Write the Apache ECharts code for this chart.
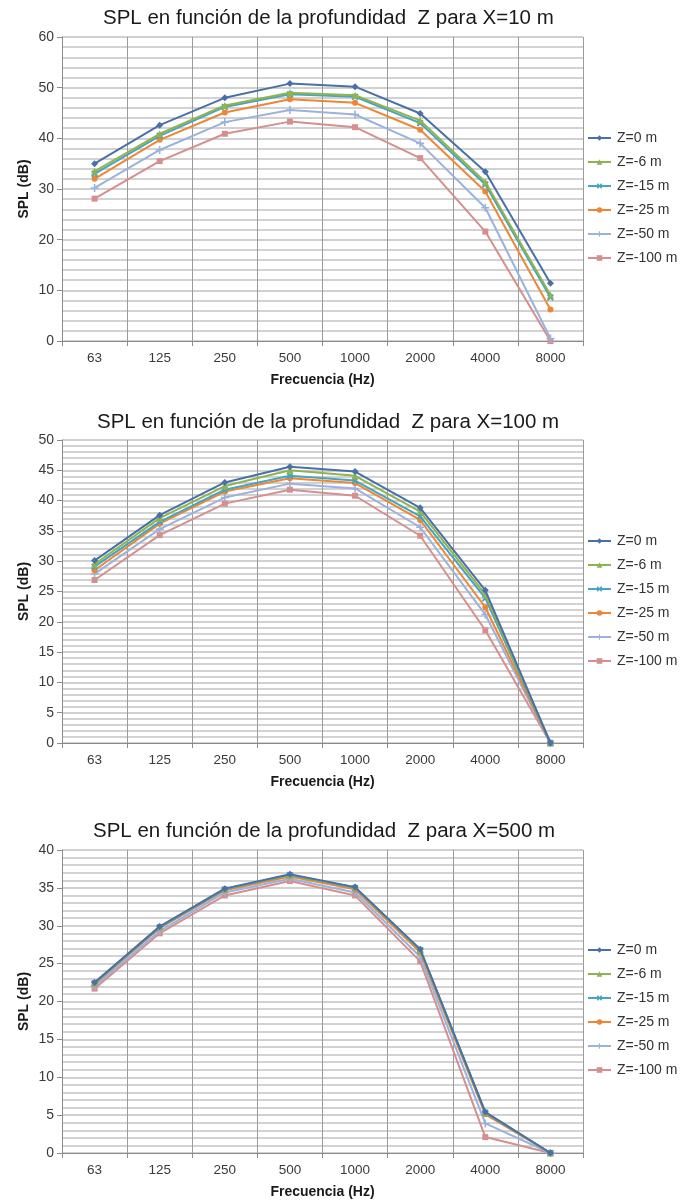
<!DOCTYPE html>
<html>
  <head>
    <meta charset="utf-8" />
    <title>SPL en función de la profundidad</title>
    <script src="https://cdn.jsdelivr.net/npm/echarts@6/dist/echarts.min.js"></script>
    <style>
      body { margin: 0; background: #fff; }
    </style>
  </head>
  <body>
    <div id="main" style="width: 696px; height: 1200px"></div>
  </body>

  <script>
    // datos
    var frecuencias = ["63", "125", "250", "500", "1000", "2000", "4000", "8000"];
    var profundidades = ["Z=0 m", "Z=-6 m", "Z=-15 m", "Z=-25 m", "Z=-50 m", "Z=-100 m"];
    var distancias = ["10", "100", "500"];

    // X=10 m
    var spl10 = [
      [35.0, 42.6, 48.0, 50.8, 50.2, 44.9, 33.4, 11.4],
      [33.5, 40.9, 46.5, 49.0, 48.5, 43.5, 31.4, 9.1],
      [33.0, 40.5, 46.2, 48.7, 48.2, 43.0, 30.9, 8.6],
      [32.0, 39.7, 45.1, 47.7, 47.0, 41.7, 29.5, 6.2],
      [30.2, 37.7, 43.2, 45.6, 44.7, 39.0, 26.3, 0.5],
      [28.1, 35.5, 40.9, 43.3, 42.2, 36.1, 21.6, 0.0],
    ];
    // X=100 m
    var spl100 = [
      [30.1, 37.6, 43.0, 45.6, 44.8, 38.8, 25.2, 0],
      [29.5, 37.1, 42.4, 45.0, 44.1, 38.2, 24.5, 0],
      [29.1, 36.5, 41.8, 44.1, 43.3, 37.4, 23.9, 0],
      [28.5, 36.2, 41.5, 43.7, 42.9, 36.8, 22.4, 0],
      [27.9, 35.3, 40.5, 42.8, 42.0, 35.6, 21.2, 0],
      [26.9, 34.3, 39.5, 41.8, 40.8, 34.2, 18.6, 0],
    ];
    // X=500 m
    var spl500 = [
      [22.5, 29.9, 34.9, 36.8, 35.1, 26.9, 5.4, 0],
      [22.5, 29.9, 34.9, 36.7, 35.1, 26.8, 5.4, 0],
      [22.4, 29.8, 34.8, 36.7, 35.0, 26.8, 5.3, 0],
      [22.3, 29.7, 34.7, 36.5, 34.8, 26.5, 5.1, 0],
      [22.0, 29.3, 34.4, 36.2, 34.4, 25.9, 3.9, 0],
      [21.7, 29.0, 34.0, 35.9, 34.0, 25.3, 2.1, 0],
    ];
    var ejesMax = [60, 50, 40];
    var ejesIntervalo = [10, 5, 5];

    var colores = ["#4a70a8", "#8db451", "#48a4bf", "#ef8636", "#9bb2dc", "#d68f8f"];
    var simbolos = [
      "diamond",
      "triangle",
      "path://M2,0 L5,3 L8,0 L10,2 L7,5 L10,8 L8,10 L5,7 L2,10 L0,8 L3,5 L0,2 Z",
      "circle",
      "path://M4,0 H6 V4 H10 V6 H6 V10 H4 V6 H0 V4 H4 Z",
      "rect",
    ];
    var tamanos = [7, 7, 7, 6, 8, 6];

    var fuente = "'Liberation Sans', Arial, sans-serif";
    var tops = [37, 440, 850];
    var altos = [304, 303, 304];
    var tituloTop = [8, 412, 821];
    var tituloLeft = [103, 97, 93];
    var leyendaTop = [130, 533, 942];
    var datos = [spl10, spl100, spl500];

    var myChart = echarts.init(document.getElementById("main"));

    var option = {
      backgroundColor: "#fff",
      title: [],
      legend: [],
      grid: [],
      xAxis: [],
      yAxis: [],
      series: [],
    };

    for (var g = 0; g < 3; g++) {
      option.title.push({
        text: "SPL en función de la profundidad  Z para X=" + distancias[g] + " m",
        left: tituloLeft[g],
        top: tituloTop[g],
        padding: 0,
        textStyle: { fontFamily: fuente, fontSize: 20.5, fontWeight: "normal", color: "#1a1a1a" },
      });
      option.legend.push({
        orient: "vertical",
        left: 587,
        top: leyendaTop[g],
        padding: 0,
        itemWidth: 23,
        itemHeight: 7,
        itemGap: 8,
        data: profundidades,
        textStyle: { fontFamily: fuente, fontSize: 14, color: "#333", lineHeight: 16, padding: [0, 0, 0, 1] },
      });
      option.grid.push({ left: 62, top: tops[g], width: 521, height: altos[g] });
      option.xAxis.push({
        type: "category",
        gridIndex: g,
        data: frecuencias,
        boundaryGap: true,
        name: "Frecuencia (Hz)",
        nameLocation: "middle",
        nameGap: 32,
        nameTextStyle: { fontFamily: fuente, fontSize: 14, fontWeight: "bold", color: "#1a1a1a" },
        axisLine: { lineStyle: { color: "#8c8c8c", width: 1 } },
        axisTick: { show: true, length: 5, lineStyle: { color: "#8c8c8c" } },
        axisLabel: { fontFamily: fuente, fontSize: 13.5, color: "#3a3a3a", margin: 10 },
        splitLine: { show: true, lineStyle: { color: "#9a9a9a", width: 1 } },
      });
      option.yAxis.push({
        type: "value",
        gridIndex: g,
        min: 0,
        max: ejesMax[g],
        interval: ejesIntervalo[g],
        name: "SPL (dB)",
        nameLocation: "middle",
        nameRotate: 90,
        nameGap: 31,
        nameMoveOverlap: false,
        nameTextStyle: { fontFamily: fuente, fontSize: 14, fontWeight: "bold", color: "#1a1a1a" },
        axisLine: { show: true, lineStyle: { color: "#8c8c8c", width: 1 } },
        axisTick: { show: true, length: 5, lineStyle: { color: "#8c8c8c" } },
        axisLabel: { fontFamily: fuente, fontSize: 14, color: "#3a3a3a", margin: 8 },
        splitLine: { show: true, lineStyle: { color: "#c0c0c0", width: 1.5 } },
        minorTick: { show: false, splitNumber: 5 },
        minorSplitLine: { show: true, lineStyle: { color: "#c4c4c4", width: 1.5 } },
      });
      for (var s = 0; s < profundidades.length; s++) {
        option.series.push({
          name: profundidades[s],
          type: "line",
          xAxisIndex: g,
          yAxisIndex: g,
          data: datos[g][s],
          symbol: simbolos[s],
          symbolSize: tamanos[s],
          showSymbol: true,
          color: colores[s],
          lineStyle: { width: 2, color: colores[s] },
          itemStyle: { color: colores[s] },
          z: 10 - s,
          animation: false,
        });
      }
    }

    myChart.setOption(option);
  </script>
</html>
